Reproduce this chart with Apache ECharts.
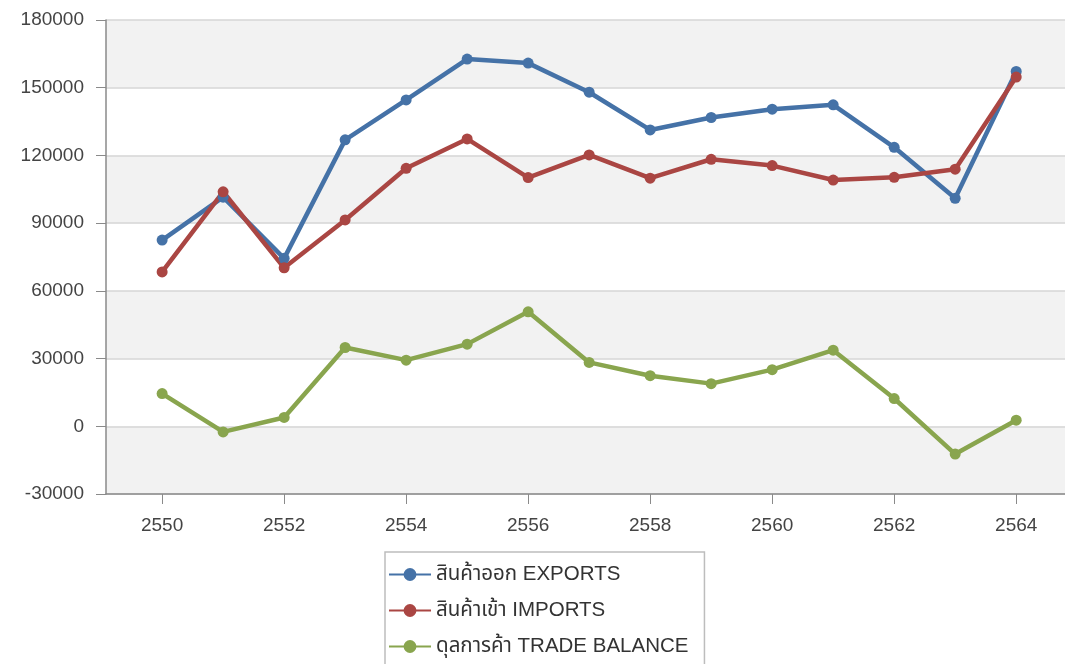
<!DOCTYPE html>
<html>
<head>
<meta charset="utf-8">
<script src="https://cdn.jsdelivr.net/npm/echarts@6/dist/echarts.min.js"></script>
<style>
html,body{margin:0;padding:0;background:#fff;}
#c{width:1065px;height:664px;}
</style>
</head>
<body>
<div id="c"></div>
<script>
var years = [2550,2551,2552,2553,2554,2555,2556,2557,2558,2559,2560,2561,2562,2563,2564];
var exportsVals = [82500,101500,74400,126900,144600,162700,160900,148000,131300,136800,140500,142400,123600,101000,157200];
var importsVals = [68400,103900,70200,91400,114300,127300,110200,120200,109900,118300,115500,109100,110300,113900,154700];
var balanceVals = [14500,-2500,3900,34900,29300,36400,50700,28300,22400,18900,25100,33700,12300,-12300,2700];
var xTickLabels = [2550,2552,2554,2556,2558,2560,2562,2564];
var seriesNames = ['สินค้าออก EXPORTS','สินค้าเข้า IMPORTS','ดุลการค้า TRADE BALANCE'];
var colors = ['#4572A7','#AA4643','#89A54E'];

function pairs(vals){ return years.map(function(y,i){ return [y, vals[i]]; }); }

var font = "'Liberation Sans', 'Noto Sans', 'Noto Sans Thai', sans-serif";
var chart = echarts.init(document.getElementById('c'));
var mk = function(name, vals, color){
  return {
    name: name, type: 'line', data: pairs(vals),
    symbol: 'circle', symbolSize: 11,
    lineStyle: {width: 4.5, color: color},
    itemStyle: {color: color},
    animation: false
  };
};
chart.setOption({
  animation: false,
  textStyle: {fontFamily: font},
  grid: {left: 106, top: 20, right: 0, bottom: 170, containLabel: false},
  xAxis: {
    type: 'value', min: 2549.08, max: 2564.8,
    axisLine: {show: true, onZero: false, lineStyle: {color: '#8a8a8a', width: 1.5}},
    axisTick: {show: true, length: 10, customValues: xTickLabels, lineStyle: {color: '#8a8a8a'}},
    axisLabel: {customValues: xTickLabels, color: '#444', fontSize: 19, margin: 22, fontFamily: font,
      formatter: function(v){ return String(v); }},
    splitLine: {show: false}
  },
  yAxis: {
    type: 'value', min: -30000, max: 180000, interval: 30000,
    axisLine: {show: true, onZero: false, lineStyle: {color: '#8a8a8a', width: 1.5}},
    axisTick: {show: true, length: 10, lineStyle: {color: '#8a8a8a'}},
    axisLabel: {color: '#444', fontSize: 19, margin: 22, fontFamily: font,
      formatter: function(v){ return String(v); }},
    splitLine: {show: true, lineStyle: {color: '#d6d6d6', width: 1.5}},
    splitArea: {show: true, areaStyle: {color: ['#f2f2f2', '#ffffff']}}
  },
  legend: {
    orient: 'vertical', left: 385, top: 552, height: 200,
    data: seriesNames,
    borderColor: '#bdbdbd', borderWidth: 1.5,
    padding: [12, 16, 20, 3],
    itemGap: 15, itemWidth: 42, itemHeight: 16,
    textStyle: {fontSize: 20.5, color: '#333', fontFamily: font}
  },
  series: [
    mk(seriesNames[0], exportsVals, colors[0]),
    mk(seriesNames[1], importsVals, colors[1]),
    mk(seriesNames[2], balanceVals, colors[2])
  ]
});
</script>
</body>
</html>
